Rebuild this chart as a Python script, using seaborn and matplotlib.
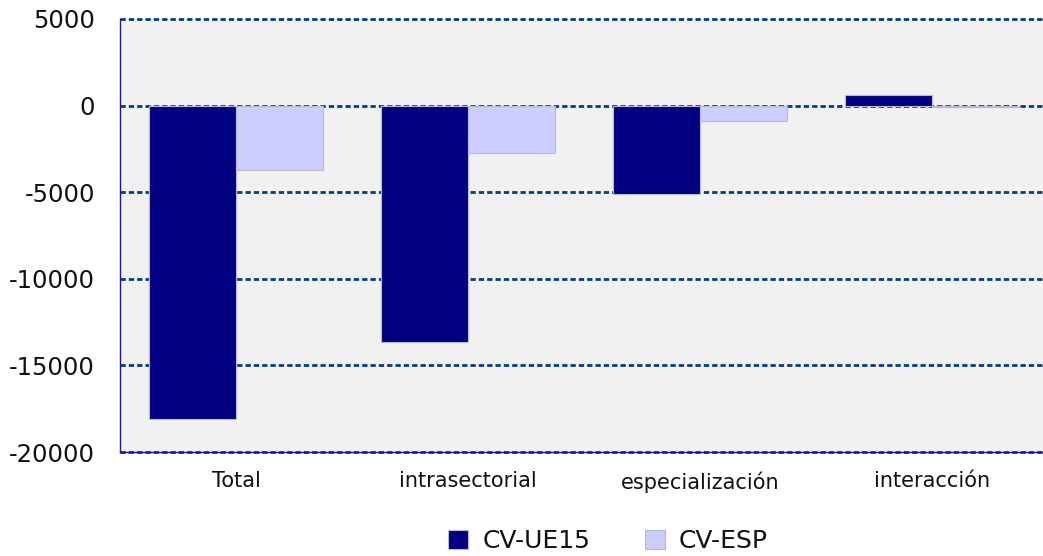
import matplotlib
matplotlib.use("Agg")
import matplotlib.pyplot as plt
import seaborn as sns
import pandas as pd
from matplotlib.ticker import FixedLocator

# ── Data ──
componentes = ['Total', 'intrasectorial', 'especialización', 'interacción']
series = ['CV-UE15', 'CV-ESP']
cv_ue15 = [-18100, -13650, -5100, 600]
cv_esp = [-3700, -2750, -900, -60]
y_ticks = [5000, 0, -5000, -10000, -15000, -20000]

NAVY = '#000080'
LAVENDER = '#ccccff'
GRID = '#00407f'


def main():
    sns.set_style('white')
    plt.rcParams['font.family'] = ['DejaVu Sans']
    plt.rcParams['axes.unicode_minus'] = False

    df = pd.DataFrame({
        'componente': componentes * 2,
        'serie': [series[0]] * len(componentes) + [series[1]] * len(componentes),
        'valor': cv_ue15 + cv_esp,
    })

    fig = plt.figure(figsize=(10.43, 5.56), dpi=100)
    ax = fig.add_axes([120 / 1043, 1 - 452 / 556, 1 - 120 / 1043, (452 - 19) / 556])
    ax.set_facecolor('#f1f1f1')

    sns.barplot(data=df, x='componente', y='valor', hue='serie',
                palette=[NAVY, LAVENDER], width=0.75, ax=ax,
                edgecolor='#b8b8d8', linewidth=0.8, saturation=1)

    ax.set_ylim(-20000, 5000)
    ax.set_xlim(-0.5, 3.48)
    ax.yaxis.set_major_locator(FixedLocator(y_ticks))
    ax.set_yticklabels([str(v) for v in y_ticks])
    ax.set_axisbelow(True)
    ax.xaxis.grid(False)
    ax.yaxis.grid(False)

    # dashed horizontal guide lines, drawn in full also at the axis edges
    for v in y_ticks:
        ax.axhline(v, color=GRID, linewidth=2.0, linestyle=(0, (1.9, 1.1)),
                   zorder=0.5, clip_on=False)

    ax.tick_params(axis='y', length=0, pad=18, labelsize=17.5, colors='#111111')
    ax.tick_params(axis='x', length=0, pad=14, labelsize=15, colors='#111111')
    ax.set_xlabel('')
    ax.set_ylabel('')

    for side in ['top', 'right']:
        ax.spines[side].set_visible(False)
    ax.spines['left'].set_color('#1a1a90')
    ax.spines['left'].set_linewidth(1.0)
    ax.spines['bottom'].set_color('#1a1a90')
    ax.spines['bottom'].set_linewidth(1.0)
    ax.spines['bottom'].set_zorder(3)

    # ── Legend below the chart ──
    handles, labels = ax.get_legend_handles_labels()
    ax.legend_.remove()
    fig.legend(handles, labels, loc='center', bbox_to_anchor=(0.583, 1 - 541 / 556),
               ncol=2, frameon=False, fontsize=18, handlelength=0.8,
               handleheight=0.8, handletextpad=0.55, columnspacing=2.2,
               labelcolor='#111111')

    fig.savefig('out.png', dpi=100)


if __name__ == "__main__":
    main()
